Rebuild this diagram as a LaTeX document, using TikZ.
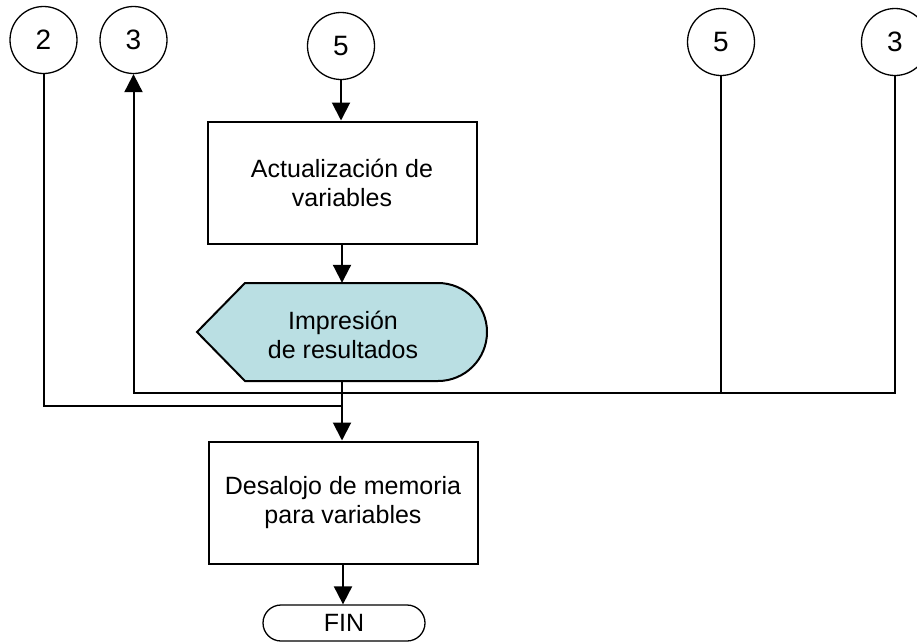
\documentclass[tikz,border=0pt]{standalone}
\usepackage{fontspec}
\setmainfont{Liberation Sans}
\usetikzlibrary{arrows.meta}
\definecolor{dispfill}{RGB}{186,223,227}
\begin{document}
\begin{tikzpicture}[x=1pt,y=-1pt,
  every node/.style={font=\fontsize{25}{29}\selectfont},
  conn/.style={circle,draw,line width=1.3pt,minimum size=67pt,inner sep=0pt,font=\fontsize{28}{32}\selectfont},
  procbox/.style={rectangle,draw,line width=2pt,minimum width=269pt,minimum height=122pt,align=center,inner sep=0pt},
  flow/.style={line width=2pt},
  arr/.style={flow,-{Triangle[length=18pt,width=18pt]}},
  term/.style={rectangle,rounded corners=18pt,draw,line width=1.3pt,minimum width=162pt,minimum height=36pt,inner sep=0pt}]
\useasboundingbox (0,0) rectangle (917,643);
% connectors (circles)
\node[conn] (c2) at (43.5,40) {2};
\node[conn] (c3l) at (133.5,40) {3};
\node[conn] (c5m) at (341,46) {5};
\node[conn] (c5r) at (721,42) {5};
\node[conn] (c3r) at (895,42) {3};
% boxes
\node[procbox] (act) at (342,182.5) {Actualización de\\variables};
\node[rectangle,minimum width=290pt,minimum height=98pt,inner sep=0pt] (disp) at (342,332) {};
\draw[fill=dispfill,line width=2pt,line join=miter] (197,332) -- (245,283) -- (438,283) arc[start angle=-90,end angle=90,radius=49] -- (245,381) -- cycle;
\node[align=center] (disptext) at (343,335) {Impresión\\de resultados};
\node[procbox] (des) at (343,502.5) {Desalojo de memoria\\para variables};
\node[term] (fin) at (344,623) {FIN};
\coordinate (j2) at (43.5,406);
\coordinate (jm) at (343,406);
\coordinate (k3r) at (895,393);
\coordinate (k3l) at (133.5,393);
\coordinate (k5r) at (721,393);
% flow
\draw[arr] (c5m) -- (act.north -| c5m);
\draw[arr] (act) -- (act.south |- disp.north);
\draw[arr] (disp.south) -- (des.north -| disp.south);
\draw[arr] (des) -- (des.south |- fin.north);
\draw[flow] (c2) -- (j2) -- (jm);
\draw[arr] (c3r) -- (k3r) -- (k3l) -- (c3l);
\draw[flow] (c5r) -- (k5r);
\end{tikzpicture}
\end{document}
